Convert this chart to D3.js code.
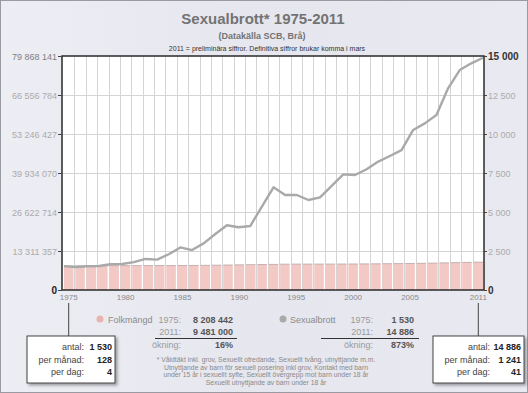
<!DOCTYPE html>
<html>
<head>
<meta charset="utf-8">
<script src="https://cdnjs.cloudflare.com/ajax/libs/d3/7.8.5/d3.min.js"></script>
<style>
  body { margin: 0; background: #fff; }
  svg text { font-family: "Liberation Sans", Arial, sans-serif; }
</style>
</head>
<body>
<div id="chart"></div>
<script>
var years = d3.range(1975, 2012);
var folkmangd = [8208442, 8236179, 8267116, 8284437, 8303010, 8317937, 8323033, 8327484, 8330573, 8342621,
    8358139, 8381515, 8414083, 8458888, 8527036, 8590630, 8644119, 8692013, 8745109, 8816381,
    8837496, 8844499, 8847625, 8854322, 8861426, 8882792, 8909128, 8940788, 8975670, 9011392,
    9047752, 9113257, 9182927, 9256347, 9340682, 9415570, 9481000];
var sexualbrott = [1530, 1470, 1520, 1540, 1650, 1670, 1790, 1990, 1950, 2290,
    2730, 2560, 2990, 3590, 4150, 4020, 4100, 5340, 6580, 6090,
    6090, 5770, 5940, 6670, 7410, 7370, 7740, 8230, 8590, 8970,
    10260, 10680, 11220, 12930, 14100, 14530, 14886];
var leftTicks = [0, 13311357, 26622714, 39934070, 53246427, 66556784, 79868141];
var rightTicks = [0, 2500, 5000, 7500, 10000, 12500, 15000];
var xTicks = [1975, 1980, 1985, 1990, 1995, 2000, 2005, 2011];
var footnote = [
    "* Våldtäkt inkl. grov, Sexuellt ofredande, Sexuellt tvång, utnyttjande m.m.",
    "Utnyttjande av barn för sexuell posering inkl grov, Kontakt med barn",
    "under 15 år i sexuellt syfte, Sexuellt övergrepp mot barn under 18 år",
    "Sexuellt utnyttjande av barn under 18 år"
];

var W = 528, H = 393;
var plotL = 62, plotR = 484, plotT = 56, plotB = 290;
var sv = d3.formatLocale({decimal: ",", thousands: " ", grouping: [3], currency: ["", ""]});
var fmt = sv.format(",d");

var svg = d3.select('#chart').append('svg:svg')
    .attr('width', W)
    .attr('height', H);

var grad = svg.append('defs').append('linearGradient')
    .attr('id', 'bg').attr('x1', 0).attr('x2', 1).attr('y1', 0).attr('y2', 0);
grad.append('stop').attr('offset', 0).attr('stop-color', '#ededf4');
grad.append('stop').attr('offset', 0.5).attr('stop-color', '#e6e6ee');
grad.append('stop').attr('offset', 1).attr('stop-color', '#e9e9f1');
var shadow = svg.select('defs').append('filter').attr('id', 'shadow')
    .attr('x', '-20%').attr('y', '-20%').attr('width', '150%').attr('height', '150%');
shadow.append('feDropShadow').attr('dx', 2).attr('dy', 2).attr('stdDeviation', 1.5)
    .attr('flood-color', '#000').attr('flood-opacity', 0.35);

svg.append('rect')
    .attr('x', 0.5).attr('y', 0.5)
    .attr('width', W - 1).attr('height', H - 1)
    .attr('fill', 'url(#bg)')
    .attr('stroke', '#9a9aa2');

// titles
svg.append('text').attr('x', 263).attr('y', 24)
    .attr('text-anchor', 'middle').attr('font-size', 15).attr('font-weight', 'bold')
    .attr('fill', '#737373').text('Sexualbrott* 1975-2011');
svg.append('text').attr('x', 262).attr('y', 39)
    .attr('text-anchor', 'middle').attr('font-size', 9).attr('font-weight', 'bold')
    .attr('fill', '#737373').text('(Datakälla SCB, Brå)');
svg.append('text').attr('x', 267).attr('y', 51)
    .attr('text-anchor', 'middle').attr('font-size', 7)
    .attr('fill', '#333').text('2011 = preliminära siffror. Definitiva siffror brukar komma i mars');

// scales
var x = d3.scaleBand().domain(years).range([plotL + 1, plotR]).paddingInner(0.16).paddingOuter(0.08);
var xLine = d3.scaleLinear().domain([1975, 2011]).range([plotL + 2, plotR - 1]);
var yL = d3.scaleLinear().domain([0, 79868141]).range([plotB, plotT]);
var yR = d3.scaleLinear().domain([0, 15000]).range([plotB, plotT]);

svg.append('rect')
    .attr('x', plotL).attr('y', plotT)
    .attr('width', plotR - plotL).attr('height', plotB - plotT)
    .attr('fill', '#fff');

// grid
var grid = svg.append('g').attr('class', 'grid');
grid.selectAll('.hgrid').data(leftTicks.slice(1, -1))
    .enter().append('line')
    .attr('x1', plotL).attr('x2', plotR)
    .attr('y1', function (d) { return Math.round(yL(d)) + 0.5; })
    .attr('y2', function (d) { return Math.round(yL(d)) + 0.5; })
    .attr('stroke', '#d4d4d4');
grid.selectAll('.vgrid').data(years.slice(1))
    .enter().append('line')
    .attr('x1', function (d) { return Math.round(x(d) - x.step() * x.paddingInner() / 2) + 0.5; })
    .attr('x2', function (d) { return Math.round(x(d) - x.step() * x.paddingInner() / 2) + 0.5; })
    .attr('y1', plotT).attr('y2', plotB)
    .attr('stroke', '#d4d4d4');

// bars
var bars = svg.append('g').selectAll('.bar')
    .data(years)
    .enter().append('g');
bars.append('rect')
    .attr('x', function (d) { return x(d); })
    .attr('y', function (d, i) { return yL(folkmangd[i]); })
    .attr('width', x.bandwidth())
    .attr('height', function (d, i) { return plotB - yL(folkmangd[i]); })
    .attr('fill', '#f3c9c5');
bars.append('line')
    .attr('x1', function (d) { return x(d); })
    .attr('x2', function (d) { return x(d) + x.bandwidth(); })
    .attr('y1', function (d, i) { return yL(folkmangd[i]); })
    .attr('y2', function (d, i) { return yL(folkmangd[i]); })
    .attr('stroke', '#b8a4a4').attr('stroke-width', 0.8);

// line
var line = d3.line()
    .x(function (d, i) { return xLine(years[i]); })
    .y(function (d) { return yR(d); });
svg.append('path')
    .datum(sexualbrott)
    .attr('d', line)
    .attr('fill', 'none')
    .attr('stroke', '#a9a9a9')
    .attr('stroke-width', 2.4)
    .attr('stroke-linejoin', 'round');

// frame
svg.append('rect')
    .attr('x', plotL).attr('y', plotT)
    .attr('width', plotR - plotL).attr('height', plotB - plotT)
    .attr('fill', 'none').attr('stroke', '#2a2a2a').attr('stroke-width', 1.5);

// axes
var axL = svg.append('g').attr('transform', 'translate(' + plotL + ',0)')
    .call(d3.axisLeft(yL).tickValues(leftTicks).tickSize(4).tickPadding(1).tickFormat(fmt));
var axR = svg.append('g').attr('transform', 'translate(' + plotR + ',0)')
    .call(d3.axisRight(yR).tickValues(rightTicks).tickSize(3).tickPadding(1).tickFormat(fmt));
var axB = svg.append('g').attr('transform', 'translate(0,' + plotB + ')')
    .call(d3.axisBottom(x).tickValues(xTicks).tickSize(0).tickPadding(4));
[axL, axR, axB].forEach(function (ax) {
    ax.select('.domain').remove();
    ax.selectAll('line').attr('stroke', '#444');
    ax.selectAll('text').attr('font-family', '"Liberation Sans", Arial, sans-serif')
        .attr('fill', '#ababab').attr('font-size', 9);
});
axB.selectAll('text').attr('font-size', 8).attr('fill', '#8a8a8a');
axL.selectAll('text').attr('dy', '0.35em');
axR.selectAll('text').attr('dy', '0.35em');
axL.selectAll('.tick').filter(function (d) { return d === 0; }).select('text')
    .attr('fill', '#222').attr('font-weight', 'bold').attr('font-size', 10);
axL.selectAll('.tick').filter(function (d) { return d === 79868141; }).select('text')
    .attr('fill', '#808080');
axR.selectAll('.tick').filter(function (d) { return d === 0 || d === 15000; }).select('text')
    .attr('fill', '#333').attr('font-weight', 'bold').attr('font-size', 10);

// legend
function legend(cx, label, values, labelX, yrX, valX, lineX1, lineX2) {
    var g = svg.append('g');
    var first = values[0], last = values[values.length - 1];
    var rows = [[String(years[0]) + ':', fmt(first)], [String(years[years.length - 1]) + ':', fmt(last)],
        ['ökning:', Math.round((last / first - 1) * 100) + '%']];
    g.append('circle').attr('cx', cx).attr('cy', 319).attr('r', 3.5)
        .attr('fill', label === 'Folkmängd' ? '#e8b4b0' : '#a9a9a9');
    g.append('text').attr('x', labelX).attr('y', 322.5).attr('font-size', 9)
        .attr('fill', '#8a8a8a').text(label);
    rows.forEach(function (r, i) {
        g.append('text').attr('x', yrX).attr('y', 322.5 + i * 12.5).attr('text-anchor', 'end')
            .attr('font-size', 9).attr('fill', '#9a9a9a').text(r[0]);
        g.append('text').attr('x', valX).attr('y', 322.5 + i * 12.5).attr('text-anchor', 'end')
            .attr('font-size', 9).attr('font-weight', 'bold').attr('fill', '#555').text(r[1]);
    });
    g.append('line').attr('x1', lineX1).attr('x2', lineX2).attr('y1', 338.5).attr('y2', 338.5)
        .attr('stroke', '#333');
}
legend(100, 'Folkmängd', folkmangd, 108, 181, 233, 155, 237);
legend(283, 'Sexualbrott', sexualbrott, 290, 373, 414, 321, 419);

// footnote
svg.append('g').selectAll('text').data(footnote)
    .enter().append('text')
    .attr('x', 266)
    .attr('y', function (d, i) { return 362 + i * 7.5; })
    .attr('text-anchor', 'middle')
    .attr('font-size', 6.8)
    .attr('fill', '#8a8a8a')
    .text(function (d) { return d; });

// callouts
function callout(idx, bx, bw) {
    var v = sexualbrott[idx];
    var cx = x(years[idx]) + x.bandwidth() / 2;
    var g = svg.append('g');
    g.append('line').attr('x1', cx).attr('x2', cx).attr('y1', 303).attr('y2', 336)
        .attr('stroke', '#444');
    g.append('rect').attr('x', bx).attr('y', 336).attr('width', bw).attr('height', 47)
        .attr('fill', '#fff').attr('stroke', '#444').attr('filter', 'url(#shadow)');
    var rows = [['antal:', fmt(v)], ['per månad:', fmt(Math.round(v / 12))], ['per dag:', fmt(Math.round(v / 365))]];
    rows.forEach(function (r, i) {
        g.append('text').attr('x', bx + 57).attr('y', 350 + i * 12.5).attr('text-anchor', 'end')
            .attr('font-size', 9).attr('fill', '#444').text(r[0]);
        g.append('text').attr('x', bx + bw - 3).attr('y', 350 + i * 12.5).attr('text-anchor', 'end')
            .attr('font-size', 9).attr('font-weight', 'bold').attr('fill', '#222').text(r[1]);
    });
}
callout(0, 27, 88);
callout(years.length - 1, 433, 91);
</script>
</body>
</html>
